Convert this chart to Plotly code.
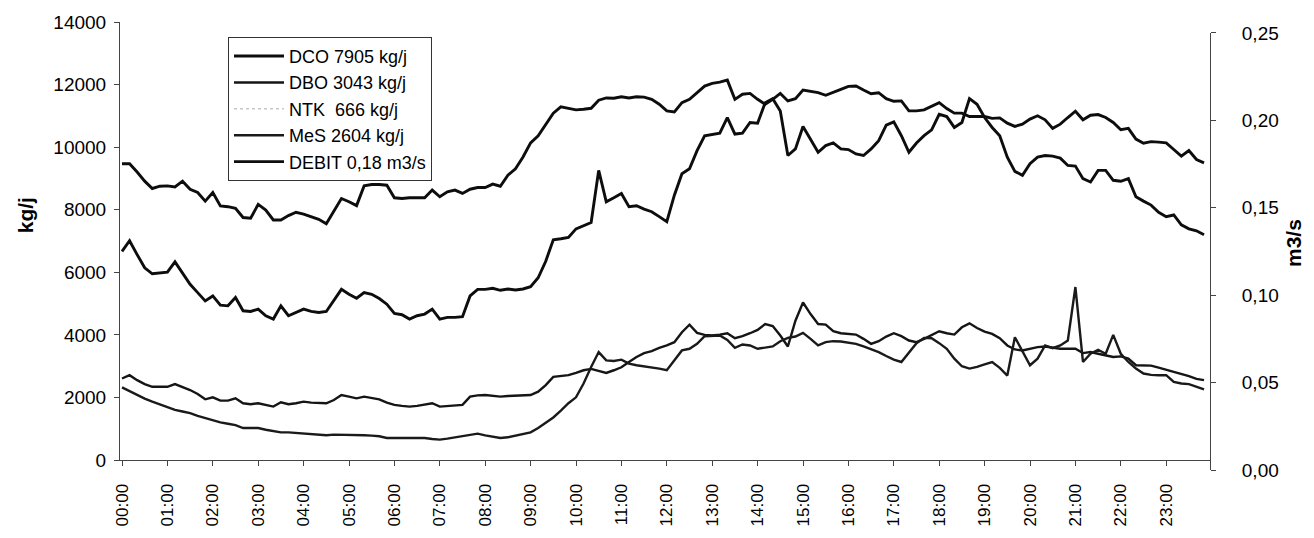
import plotly.graph_objects as go

# time axis: one reading every 10 minutes (hours as decimal)
times = [i * 10 / 60 for i in range(144)]
hour_ticks = list(range(24))
hour_labels = ["%02d:00" % h for h in hour_ticks]

dco = [6671, 7009, 6566, 6144, 5954, 5985, 6006, 6334, 5985, 5616, 5352, 5088, 5246, 4951, 4930, 5194,
       4771, 4750, 4824, 4613, 4507, 4930, 4613, 4719, 4824, 4750, 4719, 4750, 5088, 5457, 5299, 5172,
       5352, 5299, 5162, 4982, 4687, 4645, 4507, 4613, 4666, 4824, 4507, 4560, 4560, 4581, 5246, 5457,
       5457, 5489, 5426, 5468, 5436, 5468, 5542, 5827, 6355, 7041, 7073, 7115, 7389, 7495, 7590, 9258,
       8255, 8381, 8519, 8096, 8128, 8023, 7938, 7780, 7621, 8466, 9152, 9310, 9891, 10366, 10419, 10450,
       10947, 10419, 10450, 10788, 10767, 11422, 11548, 11158, 9733, 9944, 10662, 10260, 9838, 10049, 10134, 9944,
       9923, 9785, 9733, 9944, 10208, 10704, 10809, 10366, 9838, 10134, 10366, 10556, 11052, 10978, 10630, 10788,
       11550, 11369, 10947, 10630, 10366, 9680, 9226, 9099, 9469, 9680, 9733, 9712, 9648, 9416, 9395, 8994,
       8888, 9258, 9258, 8941, 8909, 8994, 8413, 8276, 8149, 7917, 7780, 7833, 7516, 7389, 7326, 7199]

dbo = [2607, 2713, 2555, 2428, 2343, 2343, 2343, 2428, 2343, 2238, 2111, 1942, 2006, 1900, 1900, 1974,
       1816, 1784, 1816, 1763, 1710, 1847, 1784, 1816, 1868, 1837, 1816, 1816, 1921, 2080, 2027, 1974,
       2027, 1995, 1942, 1837, 1763, 1731, 1710, 1731, 1763, 1816, 1710, 1731, 1731, 1763, 2027, 2069,
       2080, 2058, 2027, 2048, 2058, 2069, 2080, 2185, 2396, 2660, 2681, 2713, 2787, 2871, 2913, 2850,
       2787, 2871, 2966, 3135, 3293, 3420, 3483, 3589, 3663, 3768, 4085, 4328, 4064, 4001, 3980, 4011,
       4054, 3895, 3959, 4054, 4159, 4349, 4286, 3980, 3631, 4455, 5035, 4666, 4349, 4328, 4117, 4054,
       4022, 4011, 3874, 3716, 3800, 3948, 4054, 3959, 3821, 3768, 3874, 4001, 4117, 4054, 4011, 4244,
       4370, 4222, 4106, 4032, 3895, 3663, 3536, 3505, 3557, 3610, 3631, 3589, 3557, 3557, 3557, 3420,
       3452, 3399, 3346, 3293, 3315, 3241, 3030, 3030, 3019, 2956, 2892, 2829, 2745, 2681, 2597, 2555]

mes = [2322, 2196, 2069, 1963, 1868, 1784, 1689, 1605, 1552, 1499, 1414, 1341, 1256, 1203, 1161, 1119,
       1024, 1024, 1024, 971, 918, 887, 887, 866, 844, 813, 802, 792, 813, 813, 813, 792,
       792, 781, 760, 707, 707, 707, 707, 686, 707, 676, 654, 686, 728, 760, 813, 844,
       792, 760, 707, 728, 781, 813, 887, 1024, 1203, 1362, 1583, 1816, 2006, 2449, 2977, 3452,
       3188, 3167, 3209, 3082, 3030, 2998, 2956, 2924, 2871, 3188, 3505, 3557, 3716, 3959, 3980, 3980,
       3842, 3589, 3695, 3663, 3557, 3589, 3631, 3800, 3906, 3948, 4064, 3874, 3663, 3768, 3800, 3790,
       3758, 3716, 3631, 3536, 3452, 3325, 3209, 3135, 3452, 3737, 3906, 3895, 3737, 3557, 3241, 2998,
       2924, 2977, 3061, 3135, 2945, 2702, 3927, 3473, 3030, 3241, 3663, 3578, 3663, 3821, 5531, 3135,
       3399, 3526, 3399, 4001, 3399, 3135, 2924, 2766, 2723, 2713, 2713, 2502, 2449, 2428, 2343, 2259]

debit = [.1752, .1752, .1704, .1652, .1610, .1623, .1625, .1619, .1652, .1606, .1587, .1538, .1587, .1510, .1506, .1497,
         .1444, .1440, .1519, .1487, .1430, .1430, .1455, .1474, .1464, .1449, .1434, .1408, .1478, .1553, .1534, .1512,
         .1625, .1633, .1633, .1629, .1557, .1553, .1557, .1557, .1557, .1601, .1563, .1591, .1601, .1582, .1606, .1616,
         .1616, .1635, .1623, .1686, .1723, .1790, .1871, .1912, .1978, .2041, .2077, .2067, .2060, .2063, .2069, .2115,
         .2128, .2126, .2135, .2128, .2135, .2133, .2120, .2092, .2054, .2048, .2101, .2120, .2158, .2196, .2211, .2218,
         .2230, .2120, .2149, .2154, .2120, .2092, .2120, .2154, .2111, .2124, .2173, .2167, .2158, .2143, .2158, .2177,
         .2194, .2196, .2173, .2152, .2158, .2124, .2109, .2111, .2054, .2054, .2060, .2082, .2101, .2067, .2041, .2041,
         .2022, .2022, .2022, .2011, .2014, .1984, .1965, .1978, .2007, .2026, .2003, .1954, .1978, .2016, .2052, .2003,
         .2029, .2033, .2016, .1988, .1946, .1954, .1893, .1869, .1878, .1875, .1871, .1833, .1795, .1827, .1776, .1757]

names = ["DCO 7905 kg/j", "DBO 3043 kg/j", "NTK  666 kg/j", "MeS 2604 kg/j", "DEBIT 0,18 m3/s"]

FONT = "Arial, Liberation Sans, sans-serif"
W, H = 1314, 538
L, R, T, B = 120, 104, 22, 64
ph = H - T - B  # 452

fig = go.Figure()
fig.add_trace(go.Scatter(x=times, y=dco, name=names[0], mode="lines",
                         line=dict(color="#0d0d0d", width=2.9)))
fig.add_trace(go.Scatter(x=times, y=dbo, name=names[1], mode="lines",
                         line=dict(color="#151515", width=2.4)))
fig.add_trace(go.Scatter(x=[None], y=[None], name=names[2], mode="lines",
                         line=dict(color="#c8c8c8", width=1.5, dash="dot")))
fig.add_trace(go.Scatter(x=times, y=mes, name=names[3], mode="lines",
                         line=dict(color="#1a1a1a", width=2.4)))
fig.add_trace(go.Scatter(x=times, y=debit, name=names[4], mode="lines", yaxis="y2",
                         line=dict(color="#0d0d0d", width=2.9)))

axis_common = dict(showgrid=False, zeroline=False, showline=True, linecolor="#444444",
                   linewidth=1, ticks="outside", tickcolor="#444444", ticklen=5,
                   tickfont=dict(family=FONT, size=19, color="black"))

fig.update_layout(
    width=W, height=H,
    margin=dict(l=L, r=R, t=T, b=B),
    paper_bgcolor="white", plot_bgcolor="rgba(0,0,0,0)",
    separators=",.",
    showlegend=True,
    legend=dict(x=(228 - L) / 1090, y=(H - B - 37) / ph, xanchor="left", yanchor="top",
                bgcolor="white", bordercolor="#333333", borderwidth=1,
                font=dict(family=FONT, size=18, color="black"),
                itemwidth=50, tracegroupgap=0),
    xaxis=dict(axis_common, range=[-2 / 45.4, 1088 / 45.4], tickvals=hour_ticks, ticktext=hour_labels,
               tickangle=-90, anchor="y", tickfont=dict(family=FONT, size=17, color="black"),
               ticklabelstandoff=11),
    yaxis=dict(axis_common, domain=[10 / ph, 1], range=[0, 14000], dtick=2000, tickformat="d",
               anchor="x", ticklabelstandoff=4),
    yaxis2=dict(axis_common, domain=[0, 441 / ph], range=[0, 0.25], dtick=0.05, tickformat=".2f",
                side="right", anchor="x", ticklabelstandoff=22),
    annotations=[
        dict(text="<b>kg/j</b>", xref="paper", yref="paper", x=(25 - L) / 1090, y=(H - B - 217) / ph,
             xanchor="center", yanchor="middle",
             showarrow=False, textangle=-90, font=dict(family=FONT, size=21, color="black")),
        dict(text="<b>m3/s</b>", xref="paper", yref="paper", x=(1293 - L) / 1090, y=(H - B - 245) / ph,
             xanchor="center", yanchor="middle",
             showarrow=False, textangle=-90, font=dict(family=FONT, size=21, color="black")),
    ],
)

fig.write_html("out.html")
